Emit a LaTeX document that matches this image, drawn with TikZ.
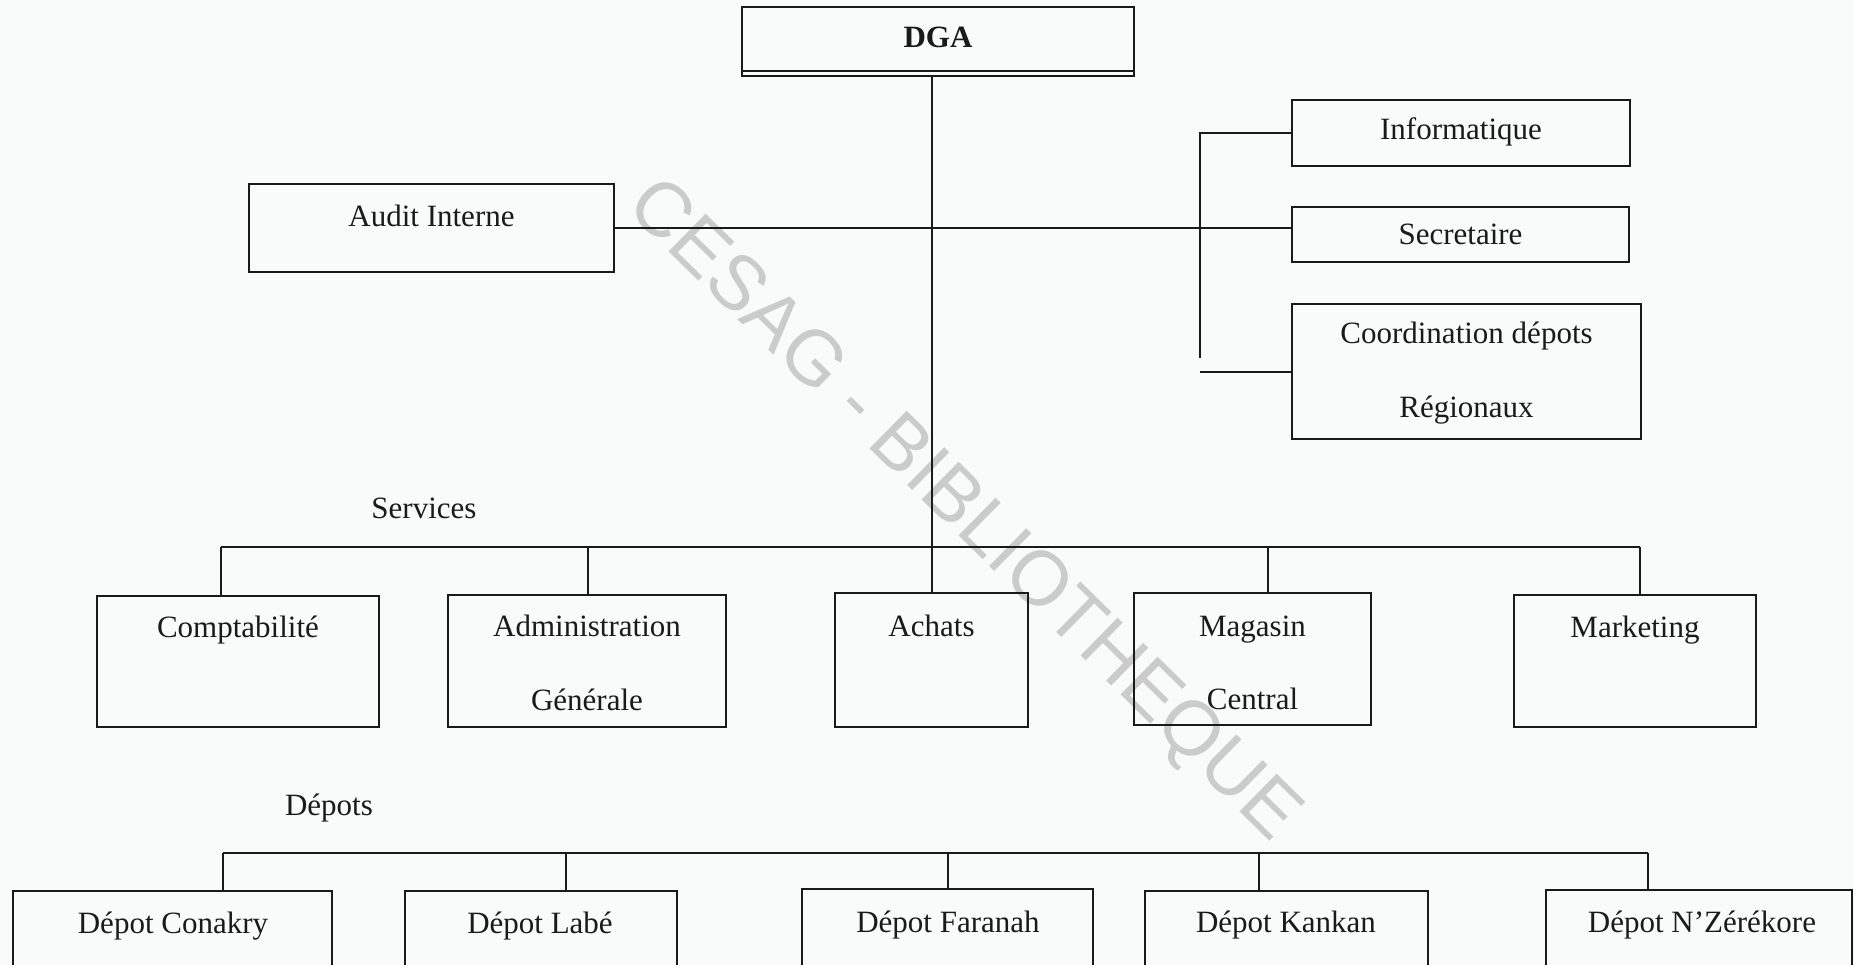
\documentclass[tikz,border=0pt]{standalone}
\usepackage{fontspec}
\setmainfont{Liberation Serif}
\newfontfamily\wmfont{Liberation Sans}
\definecolor{ink}{HTML}{1A1A1A}
\definecolor{wm}{HTML}{CBCBCB}
\definecolor{paper}{HTML}{F9FAFA}
\begin{document}
\begin{tikzpicture}[x=1pt,y=-1pt,
  box/.style={draw=ink, line width=2pt, rectangle, inner sep=0pt},
  lbl/.style={inner sep=0pt, anchor=mid, text=ink, font=\fontsize{31}{37}\selectfont},
  conn/.style={draw=ink, line width=2pt}]
\useasboundingbox (0,0) rectangle (1854,965);
\clip (0,0) rectangle (1854,965);
\fill[paper] (0,0) rectangle (1854,965);
% watermark
\node[text=wm, rotate=-44.5, font=\wmfont\fontsize{77}{88}\selectfont, inner sep=0pt] (wmark) at (962,512) {CESAG - BIBLIOTHEQUE};
% top
\node[box, minimum width=392, minimum height=69] (dga) at (938,41.5) {};
\draw[conn] ([yshift=6]dga.south west) -- ([yshift=6]dga.south east);
\node[lbl, font=\fontsize{31}{37}\selectfont\bfseries] (tdga) at (938,45) {DGA};
\node[box, minimum width=365, minimum height=88] (audit) at (431.5,228) {};
\node[lbl] (taudit) at (431.5,224) {Audit Interne};
\node[box, minimum width=338, minimum height=66] (info) at (1461,133) {};
\node[lbl] (tinfo) at (1461,137) {Informatique};
\node[box, minimum width=337, minimum height=55] (secr) at (1460.5,234.5) {};
\node[lbl] (tsecr) at (1460.5,242) {Secretaire};
\node[box, minimum width=349, minimum height=135] (coord) at (1466.5,371.5) {};
\node[lbl] (tcoord1) at (1466.5,341) {Coordination dépots};
\node[lbl] (tcoord2) at (1466.5,415) {Régionaux};
% services
\node[lbl] (tserv) at (424,516) {Services};
\node[box, minimum width=282, minimum height=131] (compta) at (238,661.5) {};
\node[lbl] (tcompta) at (238,635) {Comptabilité};
\node[box, minimum width=278, minimum height=132] (admin) at (587,661) {};
\node[lbl] (tadmin1) at (587,634) {Administration};
\node[lbl] (tadmin2) at (587,708) {Générale};
\node[box, minimum width=193, minimum height=134] (achats) at (931.5,660) {};
\node[lbl] (tachats) at (931.5,634) {Achats};
\node[box, minimum width=237, minimum height=132] (magasin) at (1252.5,659) {};
\node[lbl] (tmag1) at (1252.5,634) {Magasin};
\node[lbl] (tmag2) at (1252.5,707) {Central};
\node[box, minimum width=242, minimum height=132] (mkt) at (1635,661) {};
\node[lbl] (tmkt) at (1635,635) {Marketing};
% depots
\node[lbl] (tdep) at (329,813) {Dépots};
\node[box, minimum width=319, minimum height=100] (conakry) at (172.5,941) {};
\node[lbl] (tconakry) at (173,931) {Dépot Conakry};
\node[box, minimum width=272, minimum height=100] (labe) at (541,941) {};
\node[lbl] (tlabe) at (540,931) {Dépot Labé};
\node[box, minimum width=291, minimum height=102] (faranah) at (947.5,940) {};
\node[lbl] (tfaranah) at (948,930) {Dépot Faranah};
\node[box, minimum width=283, minimum height=100] (kankan) at (1286.5,941) {};
\node[lbl] (tkankan) at (1286,930) {Dépot Kankan};
\node[box, minimum width=306, minimum height=100] (nzere) at (1699,940) {};
\node[lbl] (tnzere) at (1702,930) {Dépot N’Zérékore};
% connectors
\coordinate (rb) at (1200,358);
\coordinate (sb1) at (221,547);
\coordinate (sb2) at (588,547);
\coordinate (sb4) at (1268,547);
\coordinate (sb5) at (1640,547);
\coordinate (db1) at (223,853);
\coordinate (db2) at (566,853);
\coordinate (db3) at (947.5,853);
\coordinate (db4) at (1259,853);
\coordinate (db5) at (1648,853);
\draw[conn] (achats.north |- dga.south) -- (achats.north);
\draw[conn] (audit.east) -- (audit.east -| secr.west);
\draw[conn] (info.west) -| (rb);
\draw[conn] (coord.west) -- (coord.west -| rb);
\draw[conn] (sb1) -- (sb5);
\draw[conn] (sb1) -- (sb1 |- compta.north);
\draw[conn] (sb2) -- (sb2 |- admin.north);
\draw[conn] (sb4) -- (sb4 |- magasin.north);
\draw[conn] (sb5) -- (sb5 |- mkt.north);
\draw[conn] (db1) -- (db5);
\draw[conn] (db1) -- (db1 |- conakry.north);
\draw[conn] (db2) -- (db2 |- labe.north);
\draw[conn] (db3) -- (db3 |- faranah.north);
\draw[conn] (db4) -- (db4 |- kankan.north);
\draw[conn] (db5) -- (db5 |- nzere.north);
\end{tikzpicture}
\end{document}
